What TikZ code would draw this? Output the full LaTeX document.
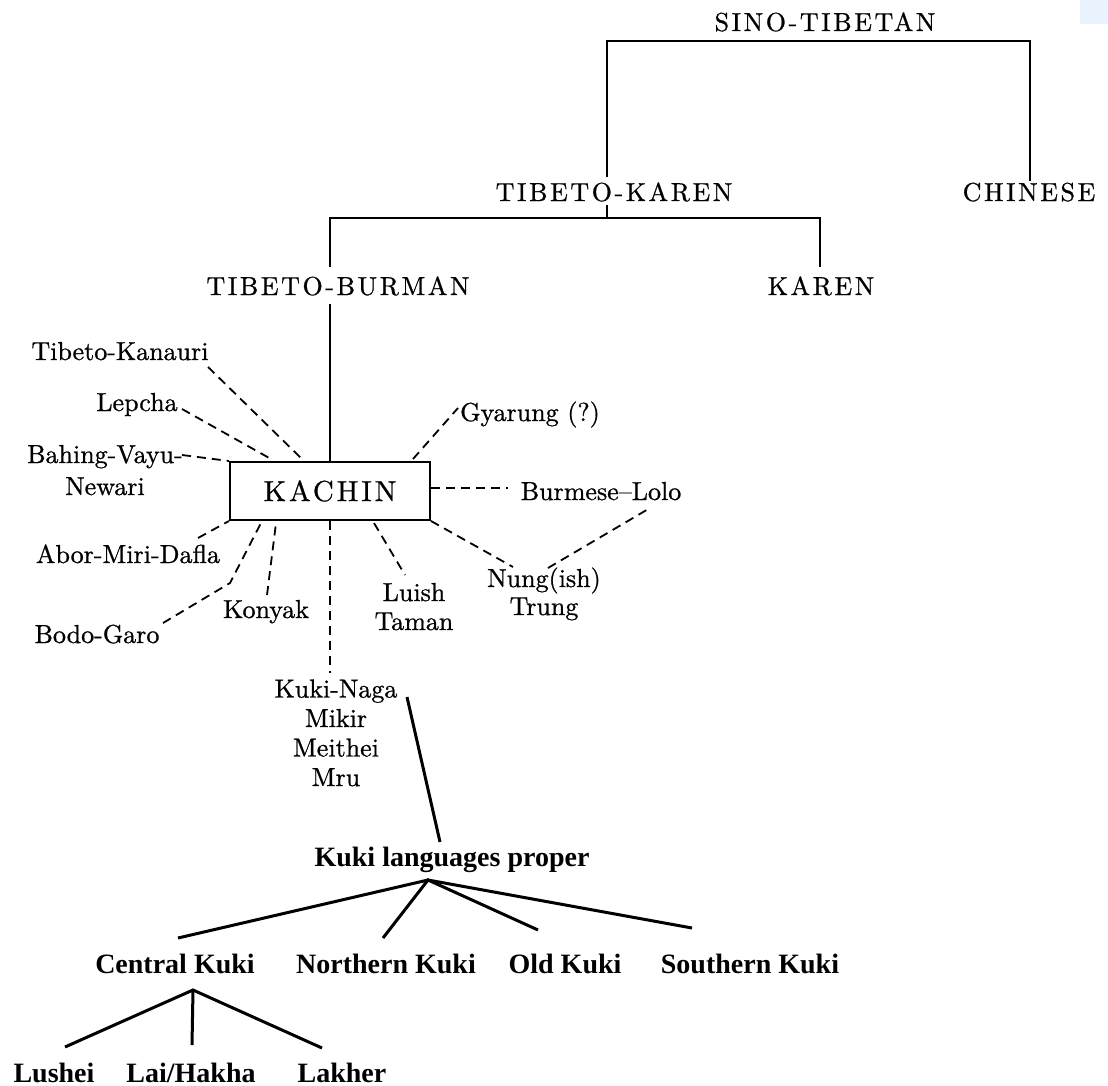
\documentclass[tikz,border=0pt]{standalone}
\usepackage{fontspec}
\setmainfont{lmroman10-regular.otf}[FakeBold=0.8]
\newfontfamily\capsfont{lmroman10-regular.otf}[LetterSpace=10,FakeBold=0.8]
\newfontfamily\kukifont{Liberation Serif}
\usetikzlibrary{calc}
\definecolor{cornerblue}{HTML}{EAF3FD}
\begin{document}
\begin{tikzpicture}[x=1pt,y=-1pt,
  lang/.style={inner sep=0pt, anchor=base, align=center, font=\fontsize{26}{29}\selectfont},
  family/.style={inner sep=0pt, anchor=base, font=\capsfont\fontsize{26}{30}\selectfont},
  kuki/.style={inner sep=0pt, anchor=base, font=\kukifont\bfseries\fontsize{28}{32}\selectfont},
  tree/.style={line width=2pt},
  kukitree/.style={line width=3pt},
  maybe/.style={line width=1.8pt, dash pattern=on 9pt off 6pt},
]
\useasboundingbox (0,0) rectangle (1108,1086);
\fill[cornerblue] (1080,0) rectangle (1108,24);

% --- upper family tree ---
\node[family] (st) at (825,31) {SINO-TIBETAN};
\node[family] (tk) at (614,201) {TIBETO-KAREN};
\node[family] (ch) at (1029,201) {CHINESE};
\node[family] (tb) at (338,295) {TIBETO-BURMAN};
\node[family] (ka) at (821,295) {KAREN};
\node[draw, line width=2pt, minimum width=200pt, minimum height=58pt, inner sep=0pt,
      font=\capsfont\fontsize{29}{30}\selectfont] (kachin) at (330,491) {KACHIN};

\coordinate (stbar) at ($(st.south)+(0,9)$);
\draw[tree] ([yshift=5pt]tk.north -| 607,0) |- (stbar) -| ([yshift=1pt]ch.north -| 1030,0);
\coordinate (tkbar) at (607,218);
\draw[tree] ([yshift=-3pt]tk.south -| tkbar) -- (tkbar);
\draw[tree] ([yshift=9pt]tb.north -| kachin.north) |- (tkbar) -| ([yshift=9pt]ka.north -| 820,0);
\draw[tree] ([yshift=-8pt]tb.south -| kachin.north) -- (kachin.north);

% --- branches around Kachin ---
\node[lang] (tkan) at (120,360) {Tibeto-Kanauri};
\node[lang] (lep) at (137,411) {Lepcha};
\node[lang, font=\fontsize{26}{32}\selectfont] (bah) at (105,495) {Bahing-Vayu-\\Newari};
\node[lang] (abor) at (128,563) {Abor-Miri-Dafla};
\node[lang] (bodo) at (97,643) {Bodo-Garo};
\node[lang] (kon) at (266,618) {Konyak};
\node[lang] (lui) at (414,630) {Luish\\Taman};
\node[lang, font=\fontsize{26}{28}\selectfont] (nung) at (544,615) {Nung(ish)\\Trung};
\node[lang] (bur) at (601,500) {Burmese–Lolo};
\node[lang] (gya) at (530,421) {Gyarung (?)};
\node[lang, font=\fontsize{26}{29.5}\selectfont] (kn) at (336,786) {Kuki-Naga\\Mikir\\Meithei\\Mru};

\coordinate (tkan-e) at (208,367);
\coordinate (lep-e)  at (182,409);
\coordinate (bah-e)  at (182,455);
\coordinate (abor-e) at (198,538);
\coordinate (bodo-e) at (163,623);
\coordinate (bodo-k) at (230,583);
\coordinate (kon-e)  at (267,595);
\coordinate (lui-e)  at (405,575);
\coordinate (nung-w) at (513,567);
\coordinate (nung-e) at (548,568);
\coordinate (bur-s)  at (650,508);
\coordinate (bur-w)  at (508,488);
\coordinate (gya-w)  at (458,408);

\draw[maybe] (tkan-e) -- ($(kachin.north west)+(75,0)$);
\draw[maybe] (lep-e)  -- ($(kachin.north west)+(42,-2)$);
\draw[maybe] (bah-e)  -- (kachin.north west);
\draw[maybe] (abor-e) -- (kachin.south west);
\draw[maybe] (bodo-e) -- (bodo-k) -- ($(kachin.south west)+(32,2)$);
\draw[maybe] (kon-e)  -- ($(kachin.south west)+(47,2)$);
\draw[maybe] (kachin.south) -- (kachin.south |- 0,673);
\draw[maybe] ($(kachin.south west)+(145,2)$) -- (lui-e);
\draw[maybe] (kachin.south east) -- (nung-w);
\draw[maybe] (nung-e) -- (bur-s);
\draw[maybe] (kachin.east |- bur-w) -- (bur-w);
\draw[maybe] ($(kachin.north east)+(-18,-2)$) -- (gya-w);

% --- Kuki languages ---
\node[kuki] (klp) at (452,866) {Kuki languages proper};
\node[kuki] (ck) at (175,973) {Central Kuki};
\node[kuki] (nk) at (386,973) {Northern Kuki};
\node[kuki] (ok) at (565,973) {Old Kuki};
\node[kuki] (sk) at (750,973) {Southern Kuki};
\node[kuki] (lu) at (54,1082) {Lushei};
\node[kuki] (lh) at (191,1082) {Lai/Hakha};
\node[kuki] (lk) at (342,1082) {Lakher};

\coordinate (kn-out) at (407,697);
\coordinate (klp-in) at (440,842);
\draw[kukitree] (kn-out) -- (klp-in);

\coordinate (klp-fork) at (428,880);
\coordinate (ck-in) at (178,938);
\coordinate (nk-in) at (383,938);
\coordinate (ok-in) at (538,930);
\coordinate (sk-in) at (692,928);
\draw[kukitree] (ck-in) -- (klp-fork) -- (sk-in);
\draw[kukitree] (nk-in) -- (klp-fork) -- (ok-in);

\coordinate (ck-fork) at (193,990);
\coordinate (lu-in) at (65,1047);
\coordinate (lh-in) at (192,1045);
\coordinate (lk-in) at (322,1048);
\draw[kukitree] (lu-in) -- (ck-fork) -- (lk-in);
\draw[kukitree] (ck-fork) -- (lh-in);
\end{tikzpicture}
\end{document}
